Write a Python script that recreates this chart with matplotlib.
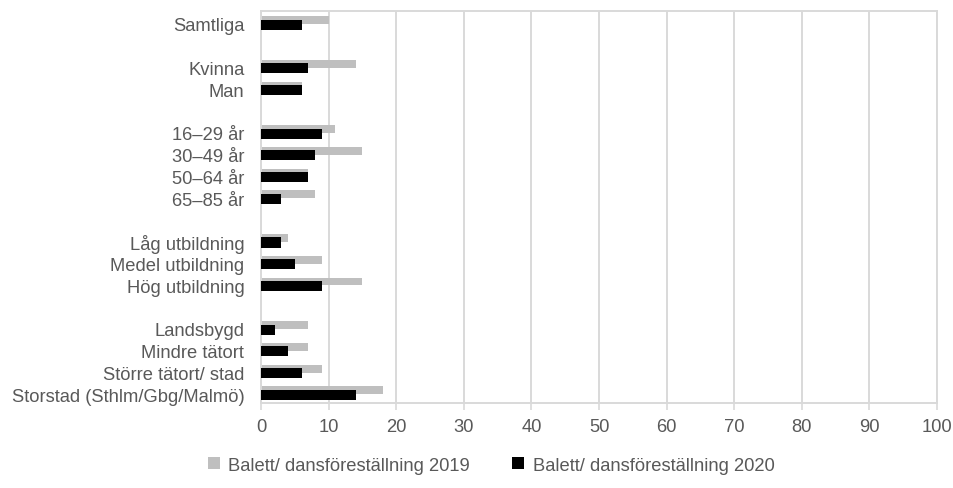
import numpy as np
import matplotlib
matplotlib.use("Agg")
import matplotlib.pyplot as plt
import matplotlib.transforms as mtransforms

# categories ("" = empty spacer row)
categories = [
    "Samtliga", "",
    "Kvinna", "Man", "",
    "16–29 år", "30–49 år", "50–64 år", "65–85 år", "",
    "Låg utbildning", "Medel utbildning", "Hög utbildning", "",
    "Landsbygd", "Mindre tätort", "Större tätort/ stad", "Storstad (Sthlm/Gbg/Malmö)",
]
values_2019 = [10, np.nan, 14, 6, np.nan, 11, 15, 7, 8, np.nan, 4, 9, 15, np.nan, 7, 7, 9, 18]
values_2020 = [6, np.nan, 7, 6, np.nan, 9, 8, 7, 3, np.nan, 3, 5, 9, np.nan, 2, 4, 6, 14]
label_2019 = "Balett/ dansföreställning 2019"
label_2020 = "Balett/ dansföreställning 2020"
x_ticks = list(range(0, 101, 10))


def main():
    plt.rcParams["font.family"] = ["Liberation Sans", "DejaVu Sans"]
    text_color = "#595959"
    grid_color = "#d9d9d9"

    fig = plt.figure(figsize=(9.54, 4.89), dpi=100)
    ax = fig.add_axes([0.2736, 0.1738, 0.7086, 0.8017])

    y = np.arange(len(categories))
    ax.barh(y - 0.08, values_2019, height=0.36, color="#bfbfbf", label=label_2019, zorder=2)
    ax.barh(y + 0.13, values_2020, height=0.46, color="#000000", label=label_2020, zorder=3)

    ax.set_ylim(len(categories) - 0.5, -0.5)
    ax.set_xlim(0, 100)
    ax.set_yticks(y)
    ax.set_yticklabels(categories, fontsize=13.2, color=text_color)
    ax.set_xticks(x_ticks)
    ax.set_xticklabels([str(t) for t in x_ticks], fontsize=13.2, color=text_color)
    ax.tick_params(axis="y", length=0, pad=12)
    ax.tick_params(axis="x", length=5, width=1.2, color=grid_color, pad=6)

    # nudge the category labels down a touch
    shift = mtransforms.ScaledTranslation(0, -2 / 100, fig.dpi_scale_trans)
    for lbl in ax.get_yticklabels():
        lbl.set_transform(lbl.get_transform() + shift)

    ax.grid(axis="x", color=grid_color, linewidth=1.4, zorder=0)
    ax.set_axisbelow(True)
    for side in ["left", "right", "top", "bottom"]:
        ax.spines[side].set_color(grid_color)
        ax.spines[side].set_linewidth(1.4)

    fig.legend(loc="center", bbox_to_anchor=(0.515, 0.047), ncol=2, frameon=False,
               fontsize=13.2, labelcolor=text_color, handlelength=0.65,
               handleheight=0.65, handletextpad=0.45, columnspacing=2.3)

    plt.savefig("out.png", dpi=100)
    plt.close()


if __name__ == "__main__":
    main()
